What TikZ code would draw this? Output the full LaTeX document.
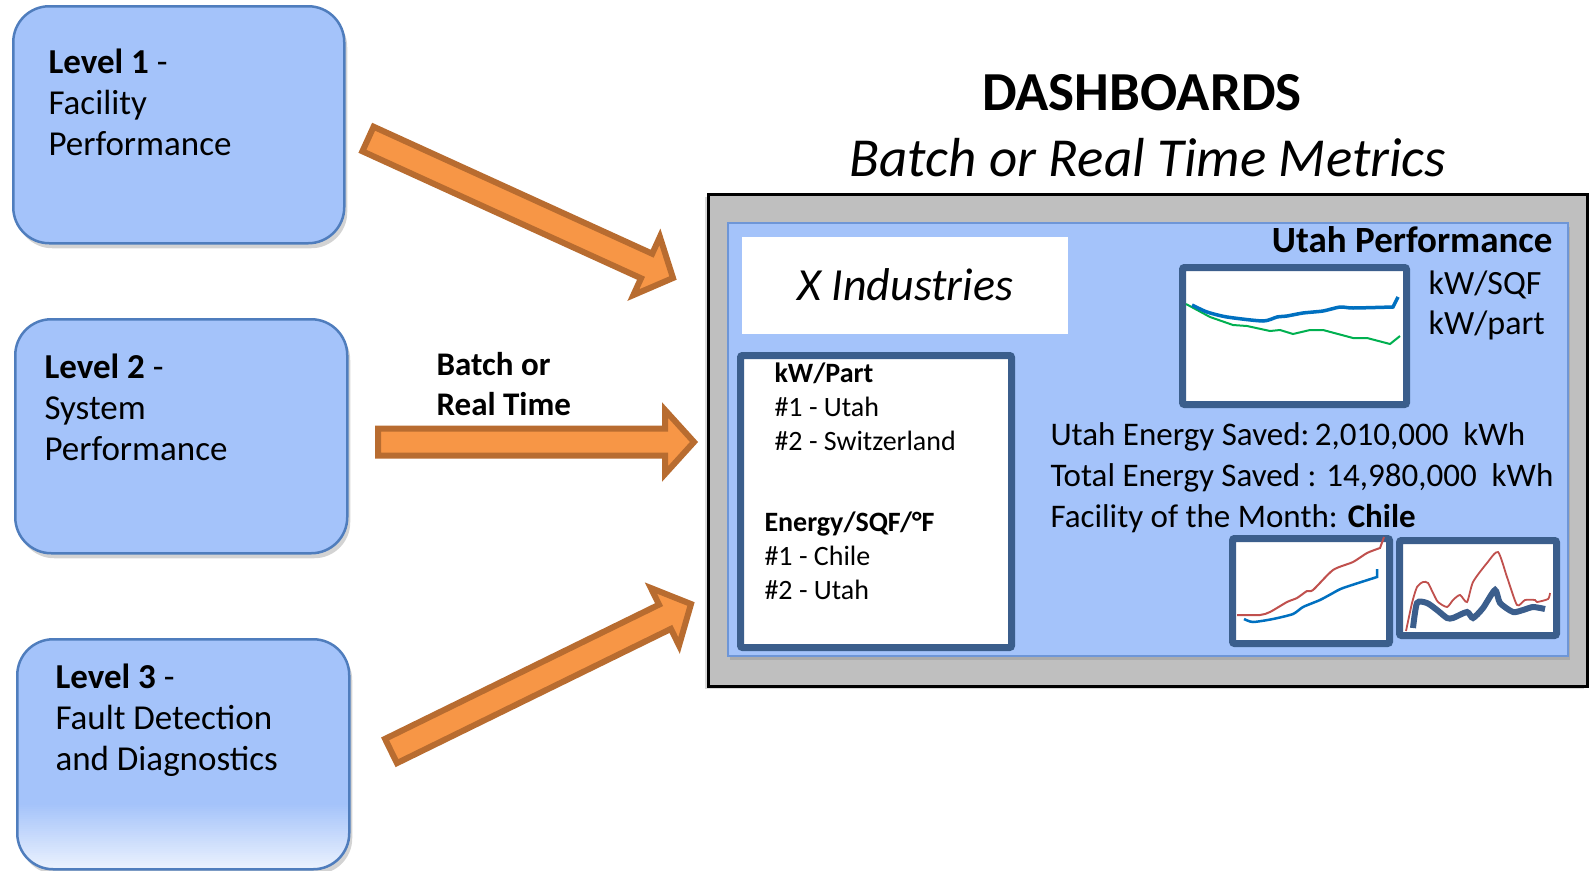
\documentclass[tikz,border=0pt]{standalone}
\usepackage{fontspec}
\setmainfont{Carlito}
\usetikzlibrary{calc,shadows}

\definecolor{paneblue}{RGB}{164,195,250}
\definecolor{boxedge}{RGB}{79,125,189}
\definecolor{panedge}{RGB}{110,150,215}
\definecolor{arrowfill}{RGB}{247,150,70}
\definecolor{arrowedge}{RGB}{184,108,48}
\definecolor{framegray}{RGB}{191,191,191}
\definecolor{frameblue}{RGB}{59,94,140}
\definecolor{lineblue}{RGB}{0,112,192}
\definecolor{linegreen}{RGB}{0,176,80}
\definecolor{linered}{RGB}{192,80,77}

\tikzset{
	levelbox/.style={draw=boxedge, line width=2.5pt, fill=paneblue, rounded corners=36pt, anchor=north west,
		drop shadow={shadow xshift=3pt, shadow yshift=-5pt, opacity=.35}},
	lvltext/.style={anchor=base west, align=left, font=\fontsize{35}{41}\selectfont},
	blockarrow/.style={draw=arrowedge, fill=arrowfill, line width=6pt},
	chartframe/.style={draw=frameblue, fill=white, line width=7pt, rounded corners=2pt, anchor=north west},
	ranktext/.style={anchor=base west, align=left, font=\fontsize{28}{34}\selectfont},
}

\newcommand{\fatarrow}[2]{%
	\coordinate (hb) at ($(#2)!29pt!(#1)$);
	\filldraw[blockarrow] ($(#1)!13.5pt!90:(#2)$) -- ($(hb)!13.5pt!90:(#2)$) -- ($(hb)!32pt!90:(#2)$) -- (#2)
		-- ($(hb)!32pt!-90:(#2)$) -- ($(hb)!13.5pt!-90:(#2)$) -- ($(#1)!13.5pt!-90:(#2)$) -- cycle;
}

\begin{document}
\begin{tikzpicture}[x=1pt, y=-1pt]
	\useasboundingbox (0,0) rectangle (1589,870);

	% levels (multi-line texts sit on the baseline of their last line)
	\node[levelbox, minimum width=331, minimum height=237] (lvl1) at (12,5) {};
	\node[levelbox, minimum width=332, minimum height=234] (lvl2) at (14,318) {};
	\node[levelbox, minimum width=332, minimum height=230,
		path picture={
			\foreach \k in {0,...,31} {
				\pgfmathsetmacro\mix{100-2.4*\k}
				\pgfmathsetmacro\ya{66-2*\k}
				\pgfmathsetmacro\yb{63-2*\k}
				\fill[sharp corners, paneblue!\mix!white] ($(path picture bounding box.south west)+(0pt,\ya pt)$)
					rectangle ($(path picture bounding box.south east)+(0pt,\yb pt)$);
			}}] (lvl3) at (16,638) {};
	\node[lvltext] (lvl1txt) at (45,155) {\textbf{Level 1} -\\Facility\\Performance};
	\node[lvltext] (lvl2txt) at (41,460) {\textbf{Level 2} -\\System\\Performance};
	\node[lvltext] (lvl3txt) at (52,770) {\textbf{Level 3} -\\Fault Detection\\and Diagnostics};

	% arrows
	\coordinate (tail1) at (368,139);
	\coordinate (tip1) at (673,278);
	\coordinate (tail2) at (378,442);
	\coordinate (tip2) at (694,442);
	\coordinate (tail3) at (391,751);
	\coordinate (tip3) at (691,604);
	\fatarrow{tail1}{tip1}
	\fatarrow{tail2}{tip2}
	\fatarrow{tail3}{tip3}
	\node[anchor=base west, align=left, font=\bfseries\fontsize{33}{40}\selectfont] (mode) at (433,415) {Batch or\\Real Time};

	% dashboard
	\node[font=\bfseries\fontsize{55}{66}\selectfont, anchor=base] (title) at (1142,110) {DASHBOARDS};
	\node[font=\itshape\fontsize{55}{66}\selectfont, anchor=base] (subtitle) at (1148,176) {Batch or Real Time Metrics};
	\node[draw=black, line width=2.5pt, fill=framegray, minimum width=879, minimum height=492, anchor=north west,
		drop shadow={shadow xshift=-3pt, shadow yshift=-3pt, opacity=.3}] (dash) at (707,193) {};
	\node[draw=panedge, line width=2pt, fill=paneblue, minimum width=840, minimum height=433, anchor=north west,
		drop shadow={shadow xshift=2pt, shadow yshift=-4pt, opacity=.3}] (pane) at (727,222) {};
	\node[fill=white, minimum width=326, minimum height=97, anchor=north west,
		font=\itshape\fontsize{46}{55}\selectfont] (firm) at (742,237) {\raisebox{3pt}{X Industries}};

	\node[chartframe, minimum width=271, minimum height=292] (ranks) at (737,352) {};
	\node[ranktext] (kwrank) at (771,450) {\textbf{kW/Part}\\\#1 - Utah\\\#2 - Switzerland};
	\node[ranktext] (enrank) at (761,599) {\textbf{Energy/SQF/°F}\\\#1 - Chile\\\#2 - Utah};

	\node[font=\bfseries\fontsize{37}{44}\selectfont, anchor=base east] (site) at (1556,252) {Utah Performance};
	\node[anchor=base west, align=left, font=\fontsize{34}{40}\selectfont] (units) at (1425,334) {kW/SQF\\kW/part};
	\node[anchor=base west, align=left, font=\fontsize{33}{41}\selectfont] (stats) at (1047,527)
		{Utah Energy Saved:\,2,010,000\ \ kWh\\Total Energy Saved : 14,980,000\ \ kWh\\Facility of the Month: \textbf{Chile}};

	% charts
	\node[chartframe, minimum width=224, minimum height=137] (trend) at (1179,264) {};
	\node[chartframe, minimum width=157, minimum height=105] (growth) at (1229,535) {};
	\node[chartframe, minimum width=157, minimum height=95] (profile) at (1396,537) {};

	\draw[linegreen, line width=2pt] plot coordinates {(1186,304) (1210,317) (1233,325) (1247,326) (1270,331) (1280,330) (1293,334)
		(1310,330) (1323,330) (1353,338) (1367,338) (1390,344) (1400,336)};
	\draw[lineblue, line width=3.5pt] plot[smooth, tension=.4] coordinates {(1192,305) (1207,312) (1227,317) (1263,321) (1277,317)
		(1287,316) (1303,313) (1323,311) (1340,307) (1353,308) (1393,307)} -- (1398,297);

	\draw[linered, line width=2pt] plot[smooth, tension=.4] coordinates {(1237,615) (1260,615) (1270,612) (1287,602) (1297,598)
		(1307,591) (1313,590) (1333,570) (1353,562) (1367,553) (1380,548)} -- (1384,537);
	\draw[lineblue, line width=2.5pt] plot[smooth, tension=.4] coordinates {(1244,619) (1253,622) (1273,619) (1293,614) (1303,607)
		(1320,600) (1333,593) (1343,588) (1377,577)} -- (1377,569);

	\draw[linered, line width=1.8pt] plot[smooth, tension=.4] coordinates {(1406,631) (1412,603) (1417,587) (1423,582) (1428,583)
		(1433,593) (1438,602) (1447,607) (1453,600) (1460,595) (1467,602) (1473,582) (1487,563) (1498,552) (1507,577)
		(1517,605) (1525,600) (1535,600) (1537,602) (1548,599) (1550,593)};
	\draw[frameblue, line width=6pt] plot[smooth, tension=.4] coordinates {(1413,628) (1417,603) (1427,603) (1437,610) (1447,618)
		(1453,618) (1467,612) (1473,618) (1483,608) (1495,590) (1500,603) (1513,612) (1523,610) (1533,607) (1545,609)};
\end{tikzpicture}
\end{document}
